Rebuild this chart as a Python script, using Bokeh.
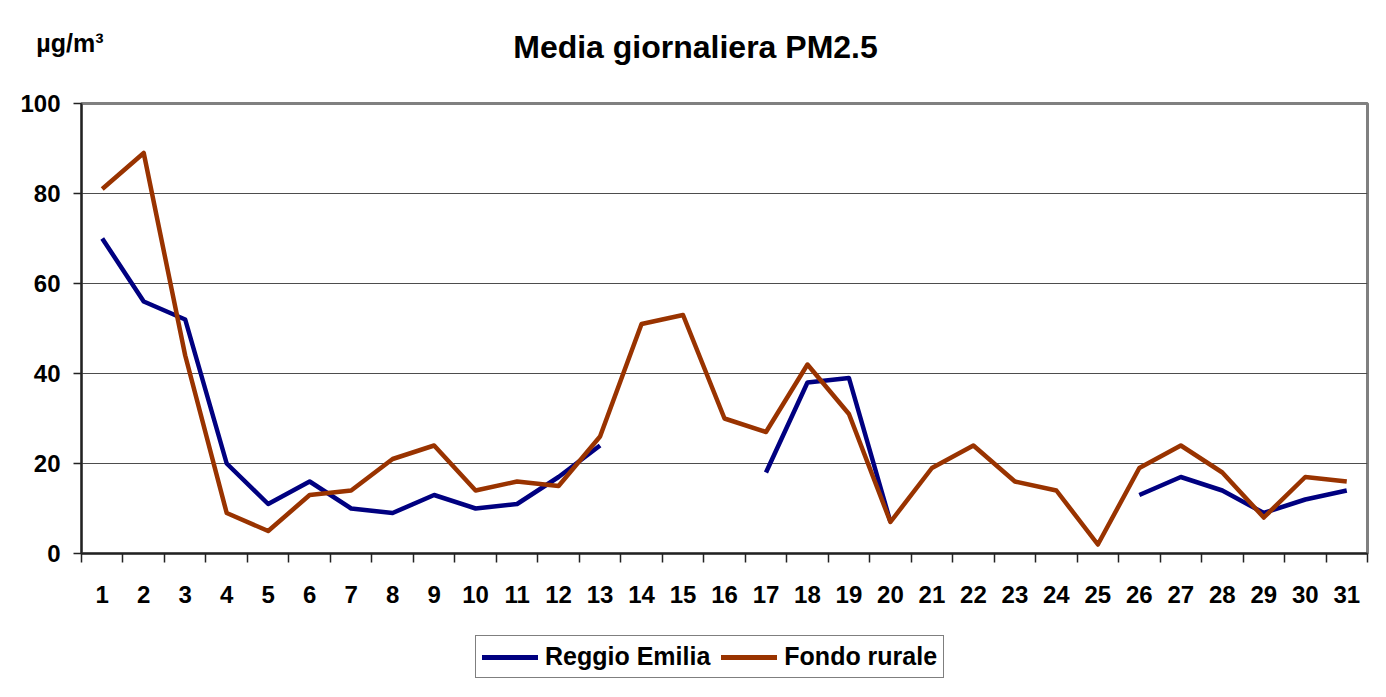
from bokeh.plotting import figure
from bokeh.models import FixedTicker, Legend, LegendItem, Range1d
from bokeh.layouts import column
from bokeh.core.properties import value
from bokeh.embed import file_html
from bokeh.resources import INLINE
import numpy as np

days = list(range(1, 32))
reggio_emilia = [70, 56, 52, 20, 11, 16, 10, 9, 13, 10, 11, 17, 24,
                 np.nan, np.nan, np.nan, 18, 38, 39, 7,
                 np.nan, np.nan, np.nan, np.nan, np.nan,
                 13, 17, 14, 9, 12, 14]
fondo_rurale = [81, 89, 44, 9, 5, 13, 14, 21, 24, 14, 16, 15, 26,
                51, 53, 30, 27, 42, 31, 7, 19, 24, 16, 14, 2,
                19, 24, 18, 8, 17, 16]
y_ticks = [0, 20, 40, 60, 80, 100]
title_text = "Media giornaliera PM2.5"
unit_text = "µg/m³"
series_names = ["Reggio Emilia", "Fondo rurale"]
colors = ["#000080", "#993300"]

FONT = "Liberation Sans"
W = 1370
BL, BR = 81, 3           # left / right borders shared by all stacked figures
HEAD_H = 90
MAIN_H = 525
FOOT_H = 681 - HEAD_H - MAIN_H


def blank(fig):
    fig.grid.visible = False
    fig.outline_line_color = None
    fig.background_fill_color = "white"
    fig.border_fill_color = "white"


# ---- header with title and unit (data units = page pixels) ----
head = figure(width=W, height=HEAD_H, output_backend="svg", toolbar_location=None,
              x_range=Range1d(BL, W - BR), y_range=Range1d(HEAD_H, 0),
              min_border_left=BL, min_border_right=BR, min_border_top=0, min_border_bottom=0,
              x_axis_type=None)
blank(head)
head.text(x=[695], y=[46], text=[title_text], text_font=value(FONT), text_font_style="bold",
          text_font_size="32px", text_align="center", text_baseline="alphabetic", text_color="black")
ua = head.yaxis[0]
unit_pos = 42
ua.ticker = FixedTicker(ticks=[unit_pos])
ua.major_label_overrides = {unit_pos: unit_text}
ua.axis_line_color = None
ua.major_tick_line_color = None
ua.minor_tick_line_color = None
ua.major_tick_out = 0
ua.major_tick_in = 0
ua.major_label_standoff = -22
ua.major_label_text_font = FONT
ua.major_label_text_font_style = "bold"
ua.major_label_text_font_size = "25px"
ua.major_label_text_color = "black"

# ---- main chart ----
p = figure(width=W, height=MAIN_H, output_backend="svg", toolbar_location=None,
           x_range=(0.5, 31.5), y_range=(0, 100),
           min_border_left=BL, min_border_right=BR, min_border_top=103 - HEAD_H,
           min_border_bottom=MAIN_H - (103 - HEAD_H) - 450)
p.background_fill_color = "white"
p.border_fill_color = "white"
p.outline_line_color = "#808080"
p.outline_line_width = 3

p.line(days, reggio_emilia, line_color=colors[0], line_width=4.5, line_join="round")
p.line(days, fondo_rurale, line_color=colors[1], line_width=4.5, line_join="round")

p.xgrid.grid_line_color = None
p.ygrid.ticker = FixedTicker(ticks=y_ticks)
p.ygrid.grid_line_color = "#4d4d4d"
p.ygrid.grid_line_width = 1

ya = p.yaxis[0]
ya.ticker = FixedTicker(ticks=y_ticks)
ya.axis_line_color = "#222222"
ya.axis_line_width = 2
ya.major_tick_line_color = "#222222"
ya.major_tick_line_width = 1.5
ya.major_tick_out = 8
ya.major_tick_in = 0
ya.minor_tick_line_color = None
ya.major_label_text_font = FONT
ya.major_label_text_font_style = "bold"
ya.major_label_text_font_size = "24px"
ya.major_label_text_color = "black"
ya.major_label_standoff = 13

xa = p.xaxis[0]
boundaries = [d - 0.5 for d in days] + [days[-1] + 0.5]
xa.ticker = FixedTicker(ticks=days, minor_ticks=boundaries)
xa.axis_line_color = "#222222"
xa.axis_line_width = 2
xa.major_tick_line_color = None
xa.major_tick_out = 0
xa.major_tick_in = 0
xa.minor_tick_line_color = "#222222"
xa.minor_tick_line_width = 1.5
xa.minor_tick_out = 9
xa.minor_tick_in = 0
xa.major_label_text_font = FONT
xa.major_label_text_font_style = "bold"
xa.major_label_text_font_size = "24px"
xa.major_label_text_color = "black"
xa.major_label_standoff = 23

# ---- footer with legend ----
foot = figure(width=W, height=FOOT_H, output_backend="svg", toolbar_location=None,
              x_range=Range1d(0, 1), y_range=Range1d(0, 1),
              min_border_left=BL, min_border_right=BR, min_border_top=0, min_border_bottom=0,
              x_axis_type=None, y_axis_type=None)
blank(foot)
k1 = foot.line(x=[np.nan], y=[np.nan], line_color=colors[0], line_width=5, line_cap="round")
k2 = foot.line(x=[np.nan], y=[np.nan], line_color=colors[1], line_width=5, line_cap="round")

legend = Legend(items=[LegendItem(label=series_names[0], renderers=[k1]),
                       LegendItem(label=series_names[1], renderers=[k2])],
                orientation="horizontal", location=(475 - BL, 3))
legend.label_text_font = FONT
legend.label_text_font_style = "bold"
legend.label_text_font_size = "25px"
legend.label_text_color = "black"
legend.glyph_width = 56
legend.glyph_height = 28
legend.label_standoff = 7
legend.spacing = 11
legend.padding = 6
legend.margin = 0
legend.border_line_color = "black"
legend.border_line_width = 1
legend.background_fill_color = "white"
legend.background_fill_alpha = 1
foot.add_layout(legend, "center")

layout = column(head, p, foot, spacing=0)
open("out.html", "w").write(file_html(layout, INLINE))
